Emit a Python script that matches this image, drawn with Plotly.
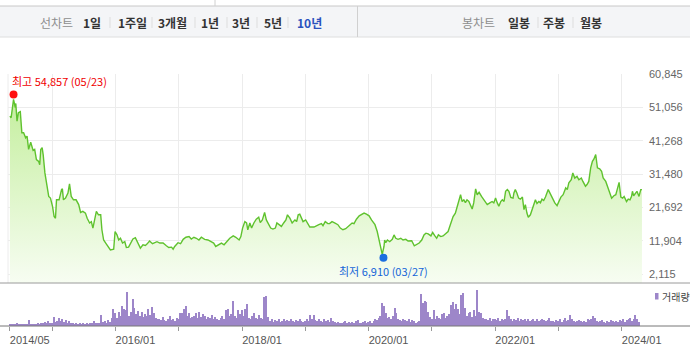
import plotly.graph_objects as go
import pandas as pd

# ---------------- data ----------------
price_dates = [
    "2014-05-02", "2014-05-09", "2014-05-23", "2014-06-02", "2014-06-05", "2014-06-12", "2014-06-20",
    "2014-07-01", "2014-07-10", "2014-07-20", "2014-08-01", "2014-08-09", "2014-08-18", "2014-08-30",
    "2014-09-13", "2014-09-22", "2014-10-02", "2014-10-15", "2014-10-21", "2014-10-27", "2014-11-04",
    "2014-11-10", "2014-11-20", "2014-11-29", "2014-12-12", "2014-12-22",
    "2015-01-03", "2015-01-12", "2015-01-20", "2015-01-26", "2015-02-10", "2015-02-24", "2015-03-01",
    "2015-03-07", "2015-03-19", "2015-04-02", "2015-04-11", "2015-04-21", "2015-05-04", "2015-05-19",
    "2015-06-03", "2015-06-14", "2015-06-27", "2015-07-12", "2015-07-22", "2015-08-05", "2015-08-15",
    "2015-08-24", "2015-09-13", "2015-09-25", "2015-10-08", "2015-10-15", "2015-10-25", "2015-11-06",
    "2015-11-19", "2015-12-03", "2015-12-22", "2015-12-30",
    "2016-01-10", "2016-01-20", "2016-01-30", "2016-02-11", "2016-02-24", "2016-03-04", "2016-03-17",
    "2016-03-28", "2016-04-11", "2016-04-25", "2016-05-04", "2016-05-16", "2016-05-24", "2016-06-08",
    "2016-06-22", "2016-07-01", "2016-07-16", "2016-08-02", "2016-08-15", "2016-08-28", "2016-09-13",
    "2016-10-02", "2016-10-21", "2016-11-04", "2016-11-20", "2016-11-29", "2016-12-08", "2016-12-27",
    "2017-01-11", "2017-01-26", "2017-02-11", "2017-03-01", "2017-03-14", "2017-03-29", "2017-04-12",
    "2017-04-27", "2017-05-11", "2017-05-30", "2017-06-18", "2017-07-08", "2017-07-21", "2017-08-02",
    "2017-08-19", "2017-09-04", "2017-09-19", "2017-10-03", "2017-10-22", "2017-11-11", "2017-11-26",
    "2017-12-15", "2017-12-25",
    "2018-01-04", "2018-01-17", "2018-01-27", "2018-02-03", "2018-02-15", "2018-02-25", "2018-03-10",
    "2018-03-24", "2018-04-07", "2018-04-16", "2018-04-28", "2018-05-11", "2018-05-21", "2018-06-04",
    "2018-06-15", "2018-06-28", "2018-07-12", "2018-07-21", "2018-08-03", "2018-08-16", "2018-08-29",
    "2018-09-11", "2018-09-20", "2018-10-04", "2018-10-17", "2018-11-02", "2018-11-12", "2018-11-21",
    "2018-11-30", "2018-12-10", "2018-12-19",
    "2019-01-03", "2019-01-14", "2019-01-27", "2019-02-20", "2019-03-05", "2019-03-20", "2019-04-04",
    "2019-04-13", "2019-04-26", "2019-05-11", "2019-05-21", "2019-06-04", "2019-06-19", "2019-07-08",
    "2019-07-22", "2019-08-06", "2019-08-22", "2019-09-05", "2019-09-14", "2019-09-28", "2019-10-09",
    "2019-10-23", "2019-11-08", "2019-11-21", "2019-12-06", "2019-12-20",
    "2020-01-04", "2020-01-18", "2020-02-07", "2020-02-20", "2020-03-05", "2020-03-13", "2020-03-20",
    "2020-03-30", "2020-04-03", "2020-04-09", "2020-04-19", "2020-05-02", "2020-05-17", "2020-05-27",
    "2020-06-06", "2020-06-19", "2020-07-05", "2020-07-18", "2020-08-03", "2020-08-16", "2020-09-06",
    "2020-09-21", "2020-10-04", "2020-10-19", "2020-11-03", "2020-11-16", "2020-11-27", "2020-12-10",
    "2020-12-26",
    "2021-01-05", "2021-01-18", "2021-01-28", "2021-02-07", "2021-02-21", "2021-03-06", "2021-03-21",
    "2021-04-04", "2021-04-17", "2021-05-03", "2021-05-16", "2021-05-28", "2021-06-07", "2021-06-15",
    "2021-06-24", "2021-07-04", "2021-07-13", "2021-07-22", "2021-08-02", "2021-08-13", "2021-08-21",
    "2021-08-30", "2021-09-10", "2021-09-19", "2021-09-30", "2021-10-14", "2021-11-03", "2021-11-16",
    "2021-12-01", "2021-12-14", "2021-12-24",
    "2022-01-03", "2022-01-13", "2022-01-22", "2022-02-02", "2022-02-11", "2022-02-21", "2022-03-02",
    "2022-03-12", "2022-03-21", "2022-04-01", "2022-04-14", "2022-04-19", "2022-04-27", "2022-05-06",
    "2022-05-16", "2022-05-26", "2022-06-07", "2022-06-16", "2022-06-24", "2022-07-03", "2022-07-11",
    "2022-07-23", "2022-08-02", "2022-08-11", "2022-08-21", "2022-08-30", "2022-09-10", "2022-09-19",
    "2022-09-28", "2022-10-08", "2022-10-18", "2022-11-03", "2022-11-16", "2022-11-28", "2022-12-11",
    "2022-12-24",
    "2023-01-03", "2023-01-15", "2023-01-28", "2023-02-12", "2023-02-21", "2023-03-02", "2023-03-16",
    "2023-03-25", "2023-04-05", "2023-04-18", "2023-04-29", "2023-05-13", "2023-05-22", "2023-06-06",
    "2023-06-15", "2023-06-25", "2023-07-06", "2023-07-16", "2023-07-25", "2023-08-04", "2023-08-14",
    "2023-08-27", "2023-09-07", "2023-09-16", "2023-10-01", "2023-10-14", "2023-10-24", "2023-11-04",
    "2023-11-17", "2023-11-28", "2023-12-06", "2023-12-17", "2023-12-27",
    "2024-01-06", "2024-01-15", "2024-01-29", "2024-02-08", "2024-02-18", "2024-02-27", "2024-03-03",
    "2024-03-10", "2024-03-20", "2024-03-29", "2024-04-10", "2024-04-20", "2024-04-27",
]
price_values = [
    48500, 48000, 53400, 51000, 52200, 47000, 49500,
    49800, 43600, 43600, 42100, 42600, 38700, 40800,
    38400, 38700, 35700, 35200, 34200, 38700, 39200,
    37200, 31800, 28900, 24900, 24400,
    22000, 19000, 18500, 23900, 23900, 26900, 27100,
    23900, 24400, 25900, 28600, 24900, 23900, 23900,
    22500, 20200, 20500, 20000, 18500, 17100, 17500,
    15600, 20500, 19500, 19500, 15100, 12100, 11200,
    10400, 9200, 9400, 14600,
    13600, 12100, 12600, 11200, 11600, 9900, 10000,
    11200, 12400, 12800, 11800, 10700, 9700, 10700,
    10500, 10900, 11800, 11000, 11300, 11600, 11200,
    11200, 10400, 9900, 10000, 9400, 10200, 11300,
    11000, 12300, 12900, 13100, 12400, 12900, 12600,
    12100, 12900, 12300, 12100, 11600, 11200, 10200,
    10700, 11200, 10700, 11600, 12600, 13300, 12900,
    12100, 13100,
    15600, 17500, 17100, 15100, 17100, 15600, 17100,
    18200, 18800, 17200, 18000, 20200, 18000, 16600,
    15600, 15300, 15600, 17100, 16600, 16100, 17100,
    18000, 19500, 18500, 17100, 18000, 17500, 19500,
    19700, 18500, 17500,
    18000, 16900, 15900, 15900, 16300, 16600, 16900,
    16300, 17500, 16900, 16900, 17500, 17100, 16600,
    15600, 15100, 15400, 16100, 16600, 17100, 16900,
    18200, 19200, 19500, 20000, 19700,
    19200, 18000, 16600, 14600, 11600, 9200, 7900,
    10200, 12100, 11300, 12100, 11600, 12300, 13600,
    12600, 12300, 12600, 12100, 12300, 11800, 11900,
    10400, 10700, 11200, 12100, 13600, 14100, 13900,
    13300,
    14300, 13300, 12600, 13600, 13100, 13300, 14100,
    14600, 16600, 19000, 20000, 22000, 24400, 25400,
    23400, 23900, 23100, 23900, 23400, 22000, 21200,
    23000, 27100, 25400, 26100, 24900, 23400, 22500,
    23000, 23400, 23000,
    24400, 23000, 22000, 23400, 23900, 23400, 26400,
    26900, 26400, 24600, 24400, 25900, 26900, 25900,
    24400, 24100, 24700, 21000, 22500, 20000, 18800,
    19500, 21000, 22500, 23900, 22800, 23400, 23000,
    24100, 23700, 24700, 26900, 25400, 24100, 23000,
    22200,
    23400, 24700, 25400, 27400, 26900, 28900, 29800,
    31800, 30300, 30800, 29800, 30300, 29300, 27900,
    28400, 29300, 33300, 35200, 35900, 37200, 33300,
    33000, 32300, 30300, 29300, 27400, 25900, 24400,
    25100, 25400, 26900, 29000, 24700,
    24400, 24900, 23400, 24100, 23900, 24900, 26400,
    25100, 25900, 26400, 24900, 26900, 26900,
]

# volume, three readings per month (1st, 11th, 21st), relative units
vol_2014 = [6, 7, 5, 6, 8, 5, 6, 7, 6, 5, 6, 18, 6, 5, 7, 6, 8, 6, 9, 8, 12, 10, 14, 9]
vol_2015 = [10, 26, 12, 15, 23, 14, 20, 12, 18, 10, 14, 8, 9, 6, 8, 7, 9, 6,
            8, 7, 10, 7, 9, 8, 16, 9, 8, 10, 33, 12, 14, 10, 18, 12, 25, 50]
vol_2016 = [38, 25, 43, 30, 60, 50, 48, 101, 30, 43, 81, 53, 35, 45, 30, 41, 28, 35,
            30, 50, 32, 58, 38, 25, 20, 22, 18, 26, 18, 15, 20, 30, 18, 22, 16, 25]
vol_2017 = [20, 38, 40, 50, 60, 30, 38, 25, 28, 30, 40, 25, 41, 28, 35, 30, 22, 28,
            25, 33, 20, 28, 22, 18, 25, 30, 20, 48, 50, 30, 35, 76, 30, 25, 48, 35]
vol_2018 = [48, 30, 50, 66, 25, 20, 30, 38, 25, 20, 33, 25, 20, 88, 90, 26, 15, 20,
            12, 18, 14, 20, 12, 16, 22, 15, 18, 14, 20, 16, 12, 18, 14, 22, 15, 12]
vol_2019 = [14, 20, 16, 33, 20, 33, 18, 14, 20, 16, 12, 22, 14, 18, 12, 25, 14, 12,
            10, 12, 8, 8, 12, 15, 10, 12, 8, 12, 10, 14, 18, 10, 8, 12, 15, 10]
vol_2020 = [12, 15, 10, 15, 20, 18, 25, 30, 70, 60, 40, 25, 28, 22, 30, 53, 38, 22,
            18, 15, 20, 18, 15, 22, 12, 18, 14, 10, 12, 15, 96, 70, 76, 73, 43, 28]
vol_2021 = [20, 48, 22, 30, 25, 20, 35, 38, 25, 30, 35, 63, 73, 50, 66, 50, 35, 93,
            98, 53, 30, 38, 43, 28, 48, 30, 108, 43, 38, 25, 20, 22, 18, 25, 15, 20]
vol_2022 = [22, 18, 25, 15, 20, 18, 20, 48, 30, 22, 15, 20, 18, 25, 15, 20, 18, 22,
            15, 20, 14, 18, 22, 16, 20, 15, 18, 22, 17, 14, 18, 24, 15, 16, 12, 18]
vol_2023 = [15, 20, 12, 18, 25, 14, 18, 33, 22, 14, 12, 16, 18, 14, 12, 16, 12, 20,
            18, 22, 30, 25, 15, 12, 14, 18, 12, 10, 15, 12, 18, 14, 12, 15, 12, 18]
vol_2024 = [15, 20, 12, 18, 22, 25, 15, 20, 33, 20, 12]
volume_values = (vol_2014 + vol_2015 + vol_2016 + vol_2017 + vol_2018 + vol_2019
                 + vol_2020 + vol_2021 + vol_2022 + vol_2023 + vol_2024)

months = pd.date_range("2014-05-01", "2024-04-01", freq="MS")
vol_dates = [m + pd.Timedelta(days=d) for m in months for d in (0, 10, 20)][:len(volume_values)]

max_date, max_value, max_label = "2014-05-23", 54857, "최고 54,857 (05/23)"
min_date, min_value, min_label = "2020-03-27", 6910, "최저 6,910 (03/27)"

y_ticks = [2115, 11904, 21692, 31480, 41268, 51056, 60845]
y_tick_text = ["2,115", "11,904", "21,692", "31,480", "41,268", "51,056", "60,845"]
year_starts = [f"{y}-01-01" for y in range(2015, 2025)]
x_tick_dates = ["2014-05-01"] + year_starts
x_tick_text = ["2014/05", "", "2016/01", "", "2018/01", "", "2020/01", "", "2022/01", "", "2024/01"]
x_range = ["2014-04-21", "2024-05-03"]

# ---------------- layout geometry ----------------
W, H = 690, 357
ML, MR, MT, MB = 8, 47, 74, 31
PW, PH = W - ML - MR, H - MT - MB
VOL_H = 43
split = VOL_H / PH
step = y_ticks[1] - y_ticks[0]
px_per_step = (PH - VOL_H - 9) / 6
y_bottom = y_ticks[0] - 9 * step / px_per_step


def px(x, y):
    return (x - ML) / PW, (H - MB - y) / PH


LINE = "#5fc22e"
PURPLE = "#9d86c9"
GRID = "#ececec"

fig = go.Figure()

fig.add_trace(go.Scatter(
    x=[price_dates[0], price_dates[-1]], y=[y_bottom, y_bottom],
    mode="lines", line=dict(width=0), hoverinfo="skip", xaxis="x", yaxis="y"))
fig.add_trace(go.Scatter(
    x=price_dates, y=price_values, mode="lines",
    line=dict(color=LINE, width=1.4), fill="tonexty",
    fillgradient=dict(type="vertical", start=y_bottom, stop=55000,
                      colorscale=[[0, "#f7fdf2"], [1, "#c3ee9c"]]),
    xaxis="x", yaxis="y"))
fig.add_trace(go.Scatter(
    x=[max_date], y=[max_value], mode="markers",
    marker=dict(color="#ff1010", size=8), xaxis="x", yaxis="y"))
fig.add_trace(go.Scatter(
    x=[min_date], y=[min_value], mode="markers",
    marker=dict(color="#1a6fe0", size=8), xaxis="x", yaxis="y"))
fig.add_trace(go.Bar(
    x=vol_dates, y=volume_values, marker=dict(color=PURPLE, line=dict(width=0)),
    width=8 * 86400000, xaxis="x2", yaxis="y2"))

AX_FONT = dict(family="Liberation Sans, Arial, sans-serif", size=11, color="#666")

fig.update_layout(
    width=W, height=H, margin=dict(l=ML, r=MR, t=MT, b=MB),
    paper_bgcolor="white", plot_bgcolor="white", showlegend=False,
    hovermode=False, bargap=0,
    font=dict(family="Noto Sans CJK KR, sans-serif"),
    xaxis=dict(domain=[0, 1], range=x_range, anchor="y", type="date",
               tickvals=year_starts, showticklabels=False, ticks="",
               showgrid=True, gridcolor=GRID, gridwidth=1, zeroline=False, showline=False),
    yaxis=dict(domain=[split, 1], range=[y_bottom, y_ticks[-1]], side="right",
               tickvals=y_ticks, ticktext=y_tick_text, ticks="",
               tickfont=AX_FONT, ticklabelstandoff=5,
               showgrid=True, gridcolor=GRID, gridwidth=1, zeroline=False, showline=False),
    xaxis2=dict(domain=[0, 1], range=x_range, anchor="y2", type="date",
                tickvals=x_tick_dates, ticktext=x_tick_text, ticks="outside",
                ticklen=4, tickcolor="#999", tickwidth=1, ticklabelshift=20,
                tickfont=dict(family="Liberation Sans, Arial, sans-serif", size=11, color="#555"),
                showgrid=False, zeroline=False, showline=False),
    yaxis2=dict(domain=[0, split], range=[0, 129], showgrid=False, showticklabels=False,
                zeroline=False, showline=False, ticks=""),
)

shapes = []
# header band
x0, y0 = px(0, 6)
x1, y1 = px(W, 37)
shapes.append(dict(type="rect", xref="paper", yref="paper", x0=x0, x1=x1, y0=y1, y1=y0,
                   fillcolor="#f4f5f7", line=dict(width=0), layer="below"))
for yy, col in ((6, "#c8c8c8"), (37, "#dedede")):
    a, b = px(0, yy)
    c, _ = px(W, yy)
    shapes.append(dict(type="line", xref="paper", yref="paper", x0=a, x1=c, y0=b, y1=b,
                       line=dict(color=col, width=1)))
for (xx, ya, yb) in ((215, 0, 6), (357.5, 6, 37)):
    a, b = px(xx, ya)
    _, d = px(xx, yb)
    shapes.append(dict(type="line", xref="paper", yref="paper", x0=a, x1=a, y0=b, y1=d,
                       line=dict(color="#d0d0d0", width=1)))
for xx in (110, 152, 195, 227, 257, 288, 538, 573):
    a, b = px(xx, 17)
    _, d = px(xx, 28)
    shapes.append(dict(type="line", xref="paper", yref="paper", x0=a, x1=a, y0=b, y1=d,
                       line=dict(color="#dddddd", width=1)))
# left edge grid line
shapes.append(dict(type="line", xref="paper", yref="paper", x0=0, x1=0, y0=split, y1=1,
                   line=dict(color=GRID, width=1)))
# panel separator lines spanning width
for yy, col in ((283, "#9a9a9a"), (326, "#777777")):
    a, b = px(0, yy)
    c, _ = px(W, yy)
    shapes.append(dict(type="line", xref="paper", yref="paper", x0=a, x1=c, y0=b, y1=b,
                       line=dict(color=col, width=1)))
# legend swatch
a, b = px(655, 293)
c, d = px(658.5, 299.5)
shapes.append(dict(type="rect", xref="paper", yref="paper", x0=a, x1=c, y0=d, y1=b,
                   fillcolor=PURPLE, line=dict(width=0)))
fig.update_layout(shapes=shapes)

ann = []
header_items = [
    ("선차트", 56, "#8e8e8e", False, 12),
    ("1일", 92, "#333333", True, 12),
    ("1주일", 132, "#333333", True, 12),
    ("3개월", 172, "#333333", True, 12),
    ("1년", 209.5, "#333333", True, 12),
    ("3년", 240.5, "#333333", True, 12),
    ("5년", 272.5, "#333333", True, 12),
    ("10년", 309.5, "#2a52be", True, 12),
    ("봉차트", 478, "#8e8e8e", False, 12),
    ("일봉", 519, "#333333", True, 12),
    ("주봉", 553.5, "#333333", True, 12),
    ("월봉", 590.5, "#333333", True, 12),
]
for text, cx, col, bold, size in header_items:
    a, b = px(cx, 22)
    ann.append(dict(xref="paper", yref="paper", x=a, y=b, text=f"<b>{text}</b>" if bold else text,
                    showarrow=False, xanchor="center", yanchor="middle",
                    font=dict(family="Noto Sans CJK KR", size=size, color=col)))

ann.append(dict(xref="x", yref="y", x=max_date, y=max_value, text=max_label, showarrow=False,
                xanchor="left", yanchor="middle", xshift=-4, yshift=13,
                font=dict(family="Noto Sans CJK KR", size=11, color="#f00000")))
ann.append(dict(xref="x", yref="y", x=min_date, y=min_value, text=min_label, showarrow=False,
                xanchor="center", yanchor="middle", yshift=-13,
                font=dict(family="Noto Sans CJK KR", size=11, color="#1565d8")))
a, b = px(660, 296)
ann.append(dict(xref="paper", yref="paper", x=a, y=b, text="거래량", showarrow=False,
                xanchor="left", yanchor="middle",
                font=dict(family="Noto Sans CJK KR", size=10, color="#444")))
fig.update_layout(annotations=ann)

fig.write_html("out.html", config={"displayModeBar": False},
               post_script="document.body.style.margin='0';document.body.style.padding='0';"
                           "document.body.style.overflow='hidden';")
